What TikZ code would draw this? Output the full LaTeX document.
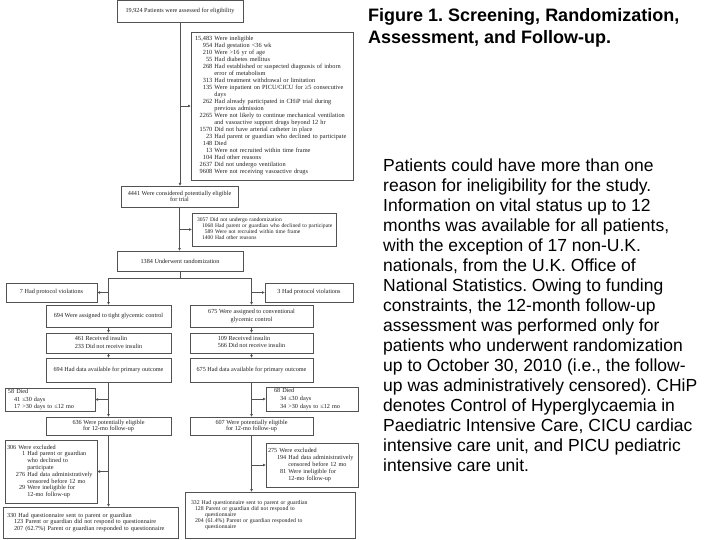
\documentclass[tikz,border=0pt]{standalone}
\usepackage{fontspec}
\setmainfont{Liberation Serif}
\newfontfamily\sansf{Liberation Sans}
\usetikzlibrary{arrows.meta}
\definecolor{linec}{gray}{0.32}
\definecolor{txtc}{gray}{0.12}
\newcommand\fs[2]{\fontsize{#1}{#2}\selectfont}
\setlength\parindent{0pt}
\frenchspacing
\begin{document}
\begin{tikzpicture}[x=1pt,y=-1pt,
  box/.style={draw=linec, text=txtc, line width=0.6pt, anchor=north west, inner sep=0pt, outer sep=0pt, font=\fs{6.2}{7}},
  lbox/.style={box, align=left},
  cbox/.style={box, align=center},
  ln/.style={draw=linec, line width=0.6pt},
  arr/.style={ln, -{Latex[length=3pt,width=3pt]}}]
\useasboundingbox (0,0) rectangle (720,540);

% ---------- screening ----------
\node[cbox, minimum width=126, minimum height=21.5] (A) at (117,0.5) {19,924 Patients were assessed for eligibility};
\node[lbox, minimum width=162, minimum height=148, text width=154, font=\fs{6.3}{7}] (B) at (191,32) {\begin{tabular}{@{}r@{ }l@{}}
15,483 & Were ineligible\\
954 & Had gestation <36 wk\\
210 & Were >16 yr of age\\
55 & Had diabetes mellitus\\
268 & Had established or suspected diagnosis of inborn\\
 & error of metabolism\\
313 & Had treatment withdrawal or limitation\\
135 & Were inpatient on PICU/CICU for ≥5 consecutive\\
 & days\\
262 & Had already participated in CHiP trial during\\
 & previous admission\\
2265 & Were not likely to continue mechanical ventilation\\
 & and vasoactive support drugs beyond 12 hr\\
1570 & Did not have arterial catheter in place\\
23 & Had parent or guardian who declined to participate\\
148 & Died\\
13 & Were not recruited within time frame\\
104 & Had other reasons\\
2637 & Did not undergo ventilation\\
9608 & Were not receiving vasoactive drugs
\end{tabular}};
\node[cbox, minimum width=117, minimum height=21, font=\fs{6.2}{6.2}] (C) at (121,186) {4441 Were considered potentially eligible\\for trial};
\node[lbox, minimum width=144, minimum height=33, text width=134, font=\fs{5.6}{6}] (D) at (192,213) {\begin{tabular}{@{\hspace{5pt}}r@{ }l@{}}
\multicolumn{2}{@{}l@{}}{3057 Did not undergo randomization}\\
1068 & Had parent or guardian who declined to participate\\
589 & Were not recruited within time frame\\
1400 & Had other reasons
\end{tabular}};
\node[cbox, minimum width=126, minimum height=20] (E) at (117,251) {1384 Underwent randomization};

% ---------- arms ----------
\node[cbox, minimum width=91, minimum height=19] (FL) at (6,283) {7 Had protocol violations};
\node[cbox, minimum width=88, minimum height=19] (FR) at (265,283) {3 Had protocol violations};
\node[cbox, minimum width=125, minimum height=22] (GL) at (46,305) {694 Were assigned to tight glycemic control};
\node[cbox, minimum width=123, minimum height=22, font=\fs{6.2}{7.4}] (GR) at (190,305) {675 Were assigned to conventional\\glycemic control};
\node[cbox, minimum width=125, minimum height=20, font=\fs{6.2}{7.4}] (HL) at (46,333) {\begin{tabular}{@{}r@{ }l@{}}461 & Received insulin\\233 & Did not receive insulin\end{tabular}};
\node[cbox, minimum width=123, minimum height=20, font=\fs{6.2}{7}] (HR) at (190,333) {\begin{tabular}{@{}r@{ }l@{}}109 & Received insulin\\566 & Did not receive insulin\end{tabular}};
\node[cbox, minimum width=125, minimum height=24] (IL) at (46,358) {694 Had data available for primary outcome};
\node[cbox, minimum width=123, minimum height=24] (IR) at (190,358) {675 Had data available for primary outcome};
\node[lbox, minimum width=90, minimum height=23, text width=84, font=\fs{6.2}{7.6}] (JL) at (5,388) {\begin{tabular}{@{\hspace{6pt}}r@{ }l@{}}
\multicolumn{2}{@{}l@{}}{58 Died}\\
41 & ≤30 days\\
17 & >30 days to ≤12 mo
\end{tabular}};
\node[lbox, minimum width=92, minimum height=24, text width=76, font=\fs{6.2}{7.6}] (JR) at (266,387) {\begin{tabular}{@{\hspace{6pt}}r@{ }l@{}}
\multicolumn{2}{@{}l@{}}{68 Died}\\
34 & ≤30 days\\
34 & >30 days to ≤12 mo
\end{tabular}};
\node[cbox, minimum width=125, minimum height=18, font=\fs{6.2}{6.7}] (KL) at (46,417) {636 Were potentially eligible\\for 12-mo follow-up};
\node[cbox, minimum width=123, minimum height=18, font=\fs{6.2}{6.7}] (KR) at (190,417) {607 Were potentially eligible\\for 12-mo follow-up};
\node[lbox, minimum width=92, minimum height=63, text width=88, font=\fs{6.2}{6.8}] (LL) at (5,440) {\begin{tabular}{@{\hspace{9pt}}r@{ }l@{}}
\multicolumn{2}{@{}l@{}}{306 Were excluded}\\
1 & Had parent or guardian\\
 & who declined to\\
 & participate\\
276 & Had data administratively\\
 & censored before 12 mo\\
29 & Were ineligible for\\
 & 12-mo follow-up
\end{tabular}};
\node[lbox, minimum width=92, minimum height=44, text width=88, font=\fs{6.2}{7}] (LR) at (266,443) {\begin{tabular}{@{\hspace{9pt}}r@{ }l@{}}
\multicolumn{2}{@{}l@{}}{275 Were excluded}\\
194 & Had data administratively\\
 & censored before 12 mo\\
81 & Were ineligible for\\
 & 12-mo follow-up
\end{tabular}};
\node[lbox, minimum width=175, minimum height=31, text width=167, font=\fs{6.2}{6.7}] (ML) at (3,507) {330 Had questionnaire sent to parent or guardian\\
\hspace*{7pt}123 Parent or guardian did not respond to questionnaire\\
\hspace*{7pt}207 (62.7\%) Parent or guardian responded to questionnaire};
\node[lbox, minimum width=170, minimum height=46, text width=158, font=\fs{5.8}{6}] (MR) at (185,492) {332 Had questionnaire sent to parent or guardian\\
\hspace*{4pt}128 Parent or guardian did not respond to\\
\hspace*{14pt}questionnaire\\
\hspace*{4pt}204 (61.4\%) Parent or guardian responded to\\
\hspace*{14pt}questionnaire};

% ---------- connectors ----------
\draw[arr] (A.south) -- (A.south |- C.north);
\draw[arr] (A.south |- B.west) -- (B.west);
\draw[arr] (C.south) -- (C.south |- E.north);
\draw[arr] (C.south |- D.west) -- (D.west);
\draw[ln] (E.south) -- ++(0,7) coordinate (split);
\draw[ln] (split -| GL.north) -- (split -| GR.north);
\draw[arr] (split -| GL.north) -- (GL.north);
\draw[arr] (split -| GR.north) -- (GR.north);
\draw[arr] (GL.north |- FL.east) -- (FL.east);
\draw[arr] (GR.north |- FR.west) -- (FR.west);
\draw[arr] (GL.south) -- (HL.north);
\draw[arr] (GR.south) -- (HR.north);
\draw[arr] (HL.south) -- (IL.north);
\draw[arr] (HR.south) -- (IR.north);
\draw[arr] (IL.south) -- (KL.north);
\draw[arr] (IR.south) -- (KR.north);
\draw[arr] (IL.south |- JL.east) -- (JL.east);
\draw[arr] (IR.south |- JR.west) -- (JR.west);
\draw[arr] (KL.south) -- (KL.south |- ML.north);
\draw[arr] (KR.south) -- (KR.south |- MR.north);
\draw[arr] (KL.south |- LL.east) -- (LL.east);
\draw[arr] (KR.south |- LR.west) -- (LR.west);

% ---------- caption ----------
\node[anchor=north west, inner sep=0pt, align=left, font=\sansf\bfseries\fs{18}{21.6}] (title) at (368,8.5) {Figure 1. Screening, Randomization,\\Assessment, and Follow-up.};
\node[anchor=north west, inner sep=0pt, align=left, font=\sansf\fs{17.5}{20}] (note) at (383,158.5) {Patients could have more than one\\
reason for ineligibility for the study.\\
Information on vital status up to 12\\
months was available for all patients,\\
with the exception of 17 non-U.K.\\
nationals, from the U.K. Office of\\
National Statistics. Owing to funding\\
constraints, the 12-month follow-up\\
assessment was performed only for\\
patients who underwent randomization\\
up to October 30, 2010 (i.e., the follow-\\
up was administratively censored). CHiP\\
denotes Control of Hyperglycaemia in\\
Paediatric Intensive Care, CICU cardiac\\
intensive care unit, and PICU pediatric\\
intensive care unit.};
\end{tikzpicture}
\end{document}
